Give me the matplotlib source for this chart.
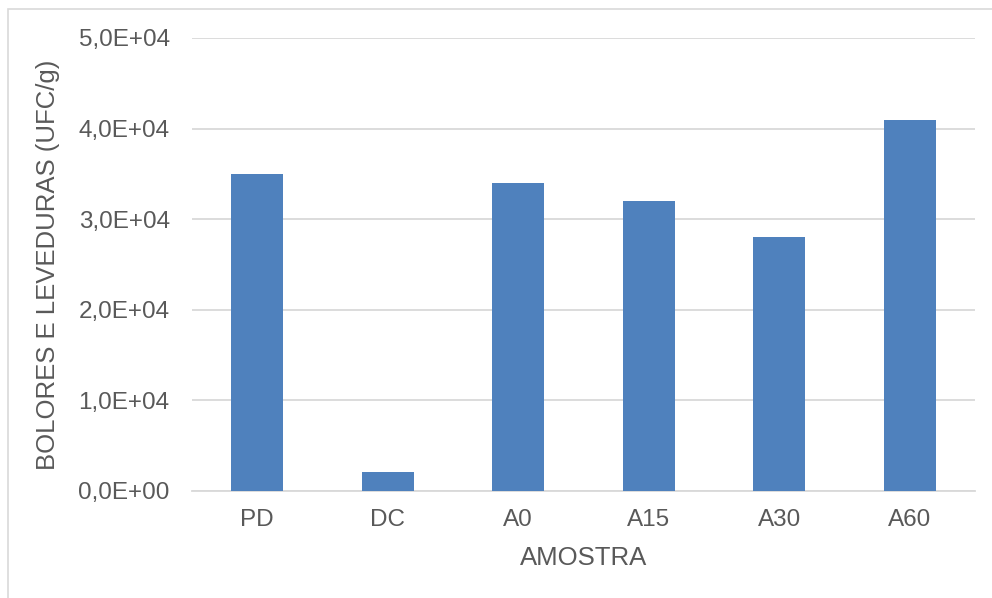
import matplotlib.pyplot as plt
from matplotlib.patches import Rectangle
from matplotlib.ticker import FuncFormatter

categories = ['PD', 'DC', 'A0', 'A15', 'A30', 'A60']
values = [35000, 2100, 34000, 32000, 28000, 41000]
yticks = [0, 10000, 20000, 30000, 40000, 50000]

plt.rcParams['font.family'] = ['Liberation Sans', 'DejaVu Sans']
text_color = '#595959'

fig = plt.figure(figsize=(9.92, 5.98), dpi=100)
ax = fig.add_axes([0.1935, 0.179, 0.7895, 0.7575])

x = range(len(categories))
ax.bar(x, values, width=0.4, color='#4F81BD', zorder=3)

ax.set_xlim(-0.5, len(categories) - 0.5)
ax.set_ylim(0, 50000)
ax.set_yticks(yticks)
ax.set_xticks(list(x))
ax.set_xticklabels(categories)


def fmt(v, pos):
    s = '%.1E' % v
    return s.replace('.', ',')


ax.yaxis.set_major_formatter(FuncFormatter(fmt))
ax.grid(axis='y', color='#D9D9D9', linewidth=1.3, zorder=0)
for side in ['top', 'right', 'left']:
    ax.spines[side].set_visible(False)
ax.spines['bottom'].set_color('#D9D9D9')
ax.spines['bottom'].set_linewidth(1.3)
ax.tick_params(axis='both', length=0, labelsize=17.5, colors=text_color)
ax.tick_params(axis='y', pad=16)
ax.tick_params(axis='x', pad=13)

ax.set_xlabel('AMOSTRA', fontsize=18.5, color=text_color, labelpad=11)
ax.set_ylabel('BOLORES E LEVEDURAS (UFC/g)', fontsize=18.5, color=text_color, labelpad=13)

fig.patches.append(Rectangle((8 / 992, -0.01), 1.0, 1 - 9 / 598 + 0.01,
                             transform=fig.transFigure, fill=False,
                             edgecolor='#D9D9D9', linewidth=1.2))

fig.savefig('out.png', dpi=100)
